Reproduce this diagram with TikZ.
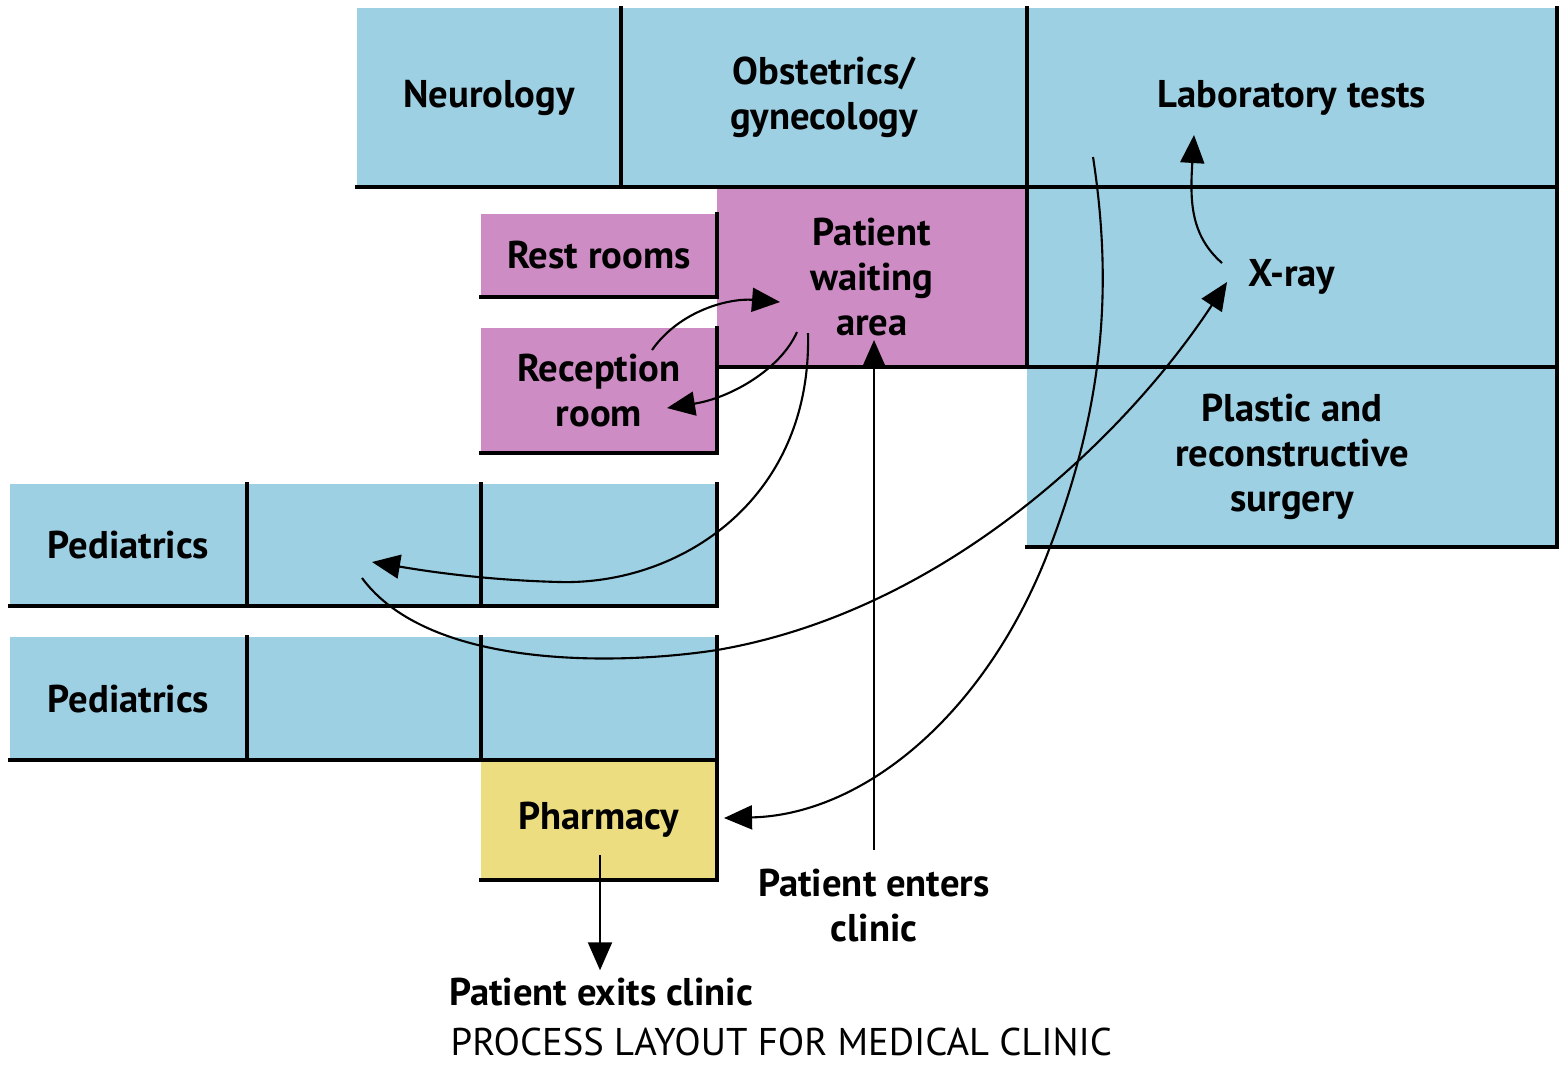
\documentclass[tikz,border=0pt]{standalone}
\usepackage{fontspec}
\setmainfont{PT Sans}
\usetikzlibrary{positioning,arrows.meta}
\definecolor{roomblue}{RGB}{158,208,228}
\definecolor{roompink}{RGB}{206,140,196}
\definecolor{roomyellow}{RGB}{236,222,128}
\begin{document}
\begin{tikzpicture}[
    room/.style={inner sep=0pt, outer sep=0pt, align=center, fill=roomblue,
      font=\fontsize{11}{12.8}\selectfont\bfseries},
    wall/.style={line width=1.1pt, line cap=rect},
    flow/.style={line width=0.6pt, -{Triangle[length=2.8mm,width=2.4mm]}},
    caption/.style={inner sep=2pt, align=center, font=\fontsize{11}{12.8}\selectfont\bfseries}
    ]
  \useasboundingbox (0,0) rectangle (15.6,-10.64);

  % top row
  \node [room, anchor=north west, minimum width=2.64cm, minimum height=1.79cm] (neuro) at (3.57,-0.08) {Neurology};
  \node [room, right=0pt of neuro, minimum width=4.06cm, minimum height=1.79cm] (obgyn) {Obstetrics/\\gynecology};
  \node [room, right=0pt of obgyn, minimum width=5.30cm, minimum height=1.79cm] (lab) {Laboratory tests};

  % waiting area and x-ray
  \node [room, fill=roompink, anchor=north west, minimum width=3.10cm, minimum height=1.80cm] (wait) at (7.17,-1.87) {Patient\\waiting\\area};
  \node [room, right=0pt of wait, minimum width=5.30cm, minimum height=1.80cm] (xray) {X-ray};
  \node [room, below=0pt of xray, minimum width=5.30cm, minimum height=1.80cm] (plastic) {Plastic and\\reconstructive\\surgery};

  % rest rooms and reception
  \node [room, fill=roompink, anchor=north west, minimum width=2.36cm, minimum height=0.83cm] (rest) at (4.81,-2.14) {Rest rooms};
  \node [room, fill=roompink, anchor=north west, minimum width=2.36cm, minimum height=1.25cm] (recep) at (4.81,-3.28) {Reception\\room};

  % pediatrics
  \node [room, anchor=north west, minimum width=2.37cm, minimum height=1.22cm] (pedA) at (0.10,-4.84) {Pediatrics};
  \node [room, right=0pt of pedA, minimum width=2.34cm, minimum height=1.22cm] (pedB) {};
  \node [room, right=0pt of pedB, minimum width=2.36cm, minimum height=1.22cm] (pedC) {};
  \node [room, anchor=north west, minimum width=2.37cm, minimum height=1.23cm] (pedD) at (0.10,-6.37) {Pediatrics};
  \node [room, right=0pt of pedD, minimum width=2.34cm, minimum height=1.23cm] (pedE) {};
  \node [room, right=0pt of pedE, minimum width=2.36cm, minimum height=1.23cm] (pedF) {};

  % pharmacy
  \node [room, fill=roomyellow, anchor=north west, minimum width=2.36cm, minimum height=1.20cm] (pharm) at (4.81,-7.60) {Pharmacy};

  \foreach \r in {neuro,obgyn,lab,wait,xray,plastic,rest,recep,pedA,pedB,pedC,pedD,pedE,pedF,pharm}
    \draw [wall] (\r.south west) -- (\r.south east) -- (\r.north east);

  % texts outside the rooms
  \node [caption] (enter) at (8.74,-9.05) {Patient enters\\clinic};
  \node [caption] (exit) at (6.01,-9.92) {Patient exits clinic};
  \node [anchor=west, inner sep=0pt, font=\fontsize{11}{12}\selectfont] (title) at (4.50,-10.42) {PROCESS LAYOUT FOR MEDICAL CLINIC};

  % patient flow
  \coordinate (waitentry) at (8.73,-3.40);
  \coordinate (recepout) at (6.52,-3.50);
  \coordinate (waitin) at (7.80,-3.02);
  \coordinate (waitout) at (7.97,-3.32);
  \coordinate (recepin) at (6.67,-4.08);
  \coordinate (waitped) at (8.08,-3.33);
  \coordinate (pedin) at (3.72,-5.62);
  \coordinate (pedout) at (3.62,-5.78);
  \coordinate (xrayin) at (12.27,-2.82);
  \coordinate (xrayout) at (12.22,-2.63);
  \coordinate (labin) at (11.94,-1.35);
  \coordinate (labout) at (10.93,-1.57);
  \coordinate (pharmin) at (7.24,-8.18);
  \coordinate (pharmout) at (6.00,-8.55);

  \draw [flow] ([yshift=3pt]enter.north) -- (enter.north |- waitentry);
  \draw [flow] (recepout) .. controls (6.80,-3.10) and (7.30,-2.98) .. (waitin);
  \draw [flow] (waitout) .. controls (7.80,-3.70) and (7.30,-3.98) .. (recepin);
  \draw [flow] (waitped) .. controls (8.12,-5.00) and (6.80,-5.85) .. (5.60,-5.82)
    .. controls (4.80,-5.80) and (4.20,-5.70) .. (pedin);
  \draw [flow] (pedout) .. controls (4.30,-6.70) and (6.20,-6.65) .. (7.17,-6.50)
    .. controls (9.50,-6.10) and (11.30,-4.30) .. (xrayin);
  \draw [flow] (xrayout) .. controls (11.90,-2.35) and (11.90,-2.00) .. (labin);
  \draw [flow] (labout) .. controls (11.15,-3.00) and (11.00,-4.20) .. (10.45,-5.60)
    .. controls (9.80,-7.20) and (8.60,-8.15) .. (pharmin);
  \draw [flow] (pharmout) -- (pharmout |- exit.north);
\end{tikzpicture}
\end{document}
